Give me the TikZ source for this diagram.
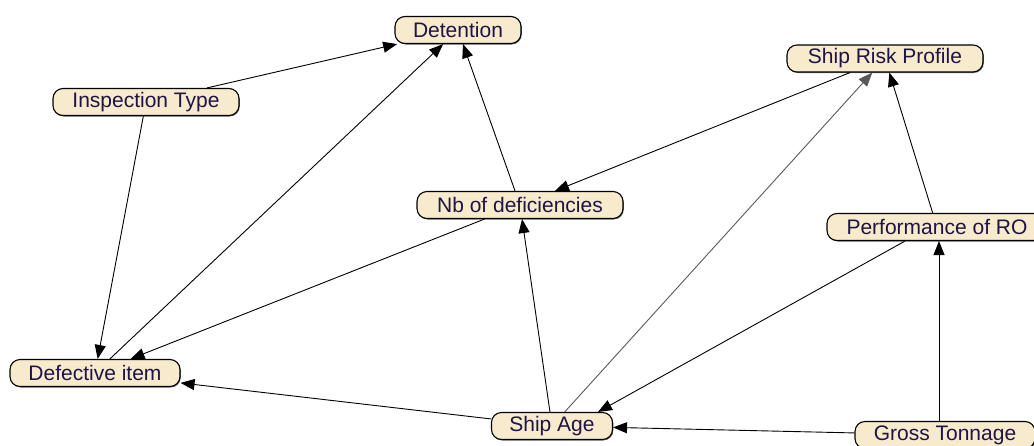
\documentclass[tikz,border=0pt]{standalone}
\usepackage{fontspec}
\setmainfont{Liberation Sans}
\usetikzlibrary{arrows.meta,shadows}
\definecolor{nodefill}{RGB}{248,234,204}
\definecolor{nodetext}{RGB}{30,20,70}
\tikzset{
  var/.style={draw=black, line width=1.1pt, fill=nodefill, rounded corners=10pt,
    minimum height=27pt, inner xsep=2pt, inner ysep=0pt,
    font=\fontsize{21}{24}\selectfont, text=nodetext,
    drop shadow={shadow xshift=0.8pt, shadow yshift=-1pt, fill=black, opacity=0.55}},
  link/.style={draw=black, line width=0.9pt, -{Triangle[length=14pt,width=11pt]}},
  faint/.style={link, draw=black!65}
}
\begin{document}
\begin{tikzpicture}[x=1pt,y=-1pt]
\useasboundingbox (0,0) rectangle (1034,445);
\node[var, minimum width=126pt] (det) at (458,30) {Detention};
\node[var, minimum width=186pt] (insp) at (146,102) {Inspection Type};
\node[var, minimum width=196pt] (risk) at (885,58.5) {Ship Risk Profile};
\node[var, minimum width=206pt] (nb) at (520,205) {Nb of deficiencies};
\node[var, minimum width=220pt] (perf) at (937,227) {Performance of RO};
\node[var, minimum width=170pt] (def) at (95,373) {Defective item};
\node[var, minimum width=121pt] (age) at (552,426) {Ship Age};
\node[var, minimum width=180pt] (gross) at (945,435) {Gross Tonnage};

\draw[link] (insp) -- (det);
\draw[link] (insp) -- (def);
\draw[link] (def) -- (det);
\draw[link] (nb) -- (det);
\draw[link] (risk) -- (nb);
\draw[link] (nb) -- (def);
\draw[link] (age) -- (def);
\draw[link] (age) -- (nb);
\draw[faint] (age) -- (risk);
\draw[link] ([xshift=-32pt]perf.south) -- ([xshift=46pt]age.north);
\draw[link] (perf) -- (risk);
\draw[link] ([xshift=-6pt]gross.north) -- ([xshift=2pt]perf.south);
\draw[link] (gross) -- (age);
\end{tikzpicture}
\end{document}
